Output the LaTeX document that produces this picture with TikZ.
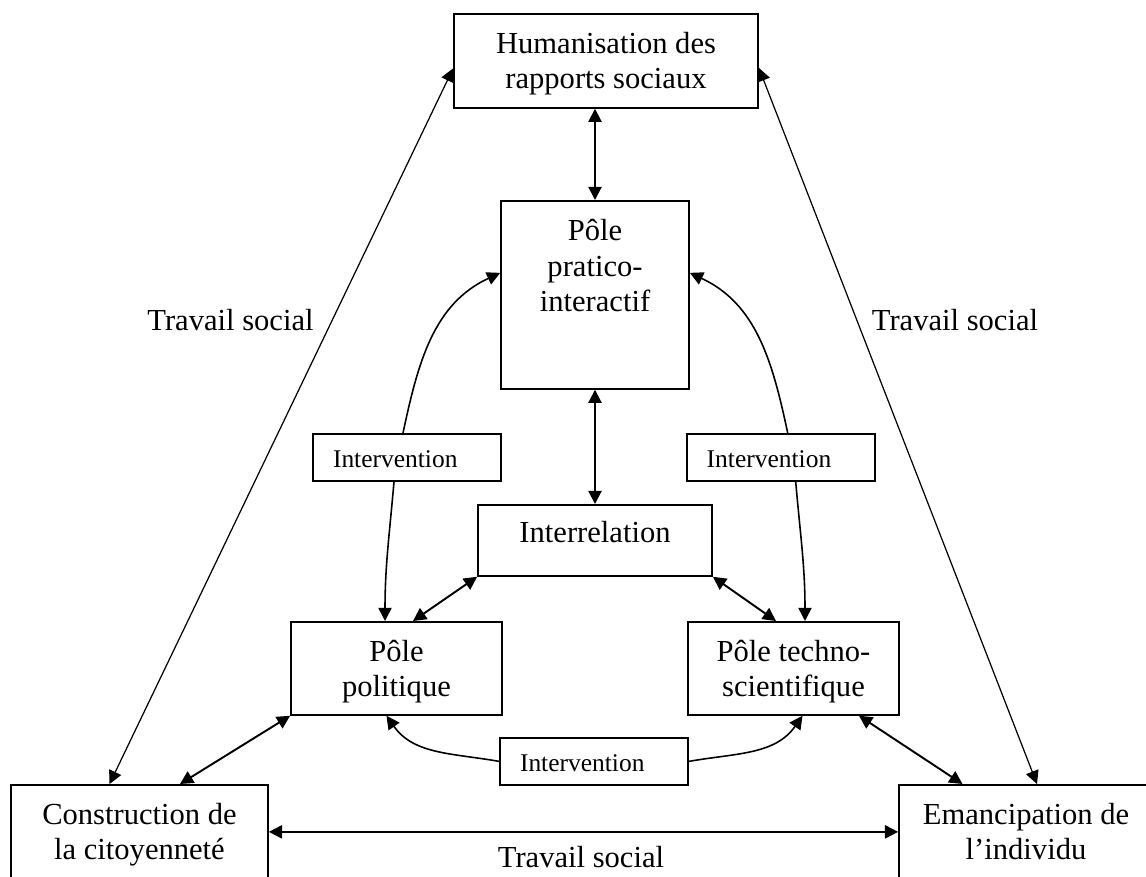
\documentclass[tikz,border=0pt]{standalone}
\usepackage{fontspec}
\setmainfont{Liberation Serif}
\usetikzlibrary{arrows.meta,positioning}
\tikzset{
  >={Triangle[length=7.5pt,width=7.5pt]},
  blk/.style={draw,rectangle,line width=1pt,inner sep=0pt,align=center,
    font=\fontsize{17.4}{20.4}\selectfont},
  bigblk/.style={blk,text height=1.5cm,text depth=0.38cm},
  polblk/.style={blk,minimum width=4.22cm,text height=1.5cm,text depth=0.36cm},
  endblk/.style={blk,text height=1.5cm,text depth=0.38cm},
  intblk/.style={draw,rectangle,line width=1pt,inner xsep=0.4cm,inner ysep=0pt,
    text width=2.96cm,align=left,text height=0.68cm,text depth=0.26cm,
    font=\fontsize{14.5}{17}\selectfont},
  lbl/.style={inner sep=0pt,font=\fontsize{17.4}{20.4}\selectfont},
  darr/.style={<->,line width=1.1pt},
  tarr/.style={<->,line width=0.7pt},
  carr/.style={->,line width=0.9pt}
}
\begin{document}
\begin{tikzpicture}[x=0.02cm,y=-0.02cm]
  \useasboundingbox (0,0) rectangle (1146,876);

  % boxes
  \node[bigblk,minimum width=6.08cm,anchor=north] (hum) at (606,13) {Humanisation des\\rapports sociaux};
  \node[blk,minimum width=3.76cm,text height=2.22cm,text depth=1.54cm,anchor=north] (prat) at (595,200) {Pôle\\pratico-\\interactif};
  \node[blk,minimum width=4.68cm,text height=0.76cm,text depth=0.66cm,anchor=north] (intr) at (595,504) {Interrelation};
  \node[polblk,anchor=north] (pol) at (396.5,621) {Pôle\\politique};
  \node[polblk,anchor=north] (tech) at (793.5,621) {Pôle techno-\\scientifique};
  \node[endblk,minimum width=5.14cm,anchor=north] (cons) at (139.5,784) {Construction de\\la citoyenneté};
  \node[endblk,minimum width=5.08cm,anchor=north] (eman) at (1026,784) {Emancipation de\\l’individu};

  \node[intblk,anchor=north] (intL) at (407,433) {Intervention};
  \node[intblk,anchor=north] (intR) at (780.7,433) {Intervention};
  \node[intblk,anchor=north] (intB) at (594,737) {Intervention};

  % labels
  \node[lbl,anchor=base] (tsl) at (230.5,330) {Travail social};
  \node[lbl,anchor=base] (tsr) at (955,330) {Travail social};
  \node[lbl,anchor=base] (tsb) at (581,867) {Travail social};

  % links
  \draw[darr] (prat.north |- hum.south) -- (prat.north);
  \draw[darr] (prat.south) -- (intr.north);
  \draw[darr] (intr.south west) -- ([xshift=0.33cm]pol.north);
  \draw[darr] (intr.south east) -- ([xshift=-0.35cm]tech.north);
  \draw[darr] ([xshift=0.81cm]cons.north) -- (pol.south west);
  \draw[darr] ([xshift=1.31cm]tech.south) -- ([xshift=-1.27cm]eman.north);
  \draw[darr] (cons.east) -- (eman.west);
  \draw[tarr] ([xshift=-0.6cm]cons.north) -- ([yshift=-0.15cm]hum.west);
  \draw[tarr] ([xshift=0.22cm]eman.north) -- ([yshift=-0.14cm]hum.east);

  \draw[carr] ([xshift=-0.08cm]intL.north) to[out=78,in=205] ([yshift=0.44cm]prat.west);
  \draw[carr] ([xshift=0.14cm]intR.north) to[out=102,in=-25] ([yshift=0.44cm]prat.east);
  \draw[carr] ([xshift=-0.26cm]intL.south) to[out=-95,in=90] ([xshift=-0.23cm]pol.north);
  \draw[carr] ([xshift=0.3cm]intR.south) to[out=-85,in=90] ([xshift=0.23cm]tech.north);
  \draw[carr] (intB.west) to[out=170,in=-55] ([xshift=-0.2cm]pol.south);
  \draw[carr] (intB.east) to[out=10,in=-125] ([xshift=0.18cm]tech.south);
\end{tikzpicture}
\end{document}
